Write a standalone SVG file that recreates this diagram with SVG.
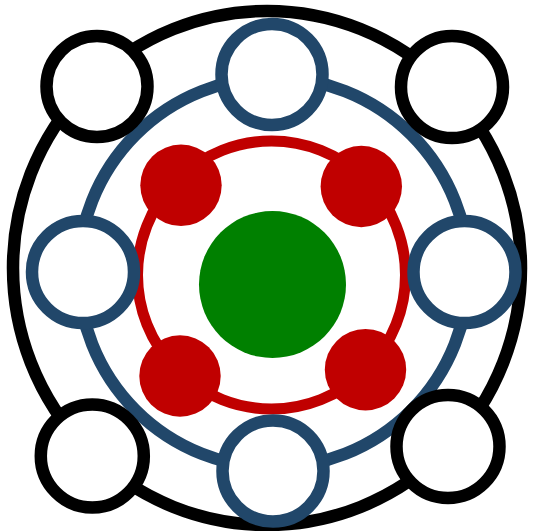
<svg xmlns="http://www.w3.org/2000/svg" width="533" height="531" viewBox="0 0 533 531">
  <style>
    .ring { fill: none; }
    .black { stroke: #000000; stroke-width: 12.5; }
    .blue { stroke: #21476a; stroke-width: 12.5; }
    .red { stroke: #c00000; stroke-width: 11; }
    .node { fill: #ffffff; }
    .redfill { fill: #c00000; }
    .green { fill: #008000; }
  </style>
  <rect x="0" y="0" width="533" height="531" fill="#ffffff"/>
  <g id="connectors">
    <ellipse class="ring black" cx="267" cy="268" rx="254" ry="257"/>
    <circle class="ring blue" cx="273.5" cy="272.5" r="195"/>
    <circle class="ring red" cx="271.5" cy="275" r="134"/>
  </g>
  <g id="center"><circle class="green" cx="272.5" cy="284.5" r="73.5"/></g>
  <g id="red-tl"><circle class="redfill" cx="181" cy="185.3" r="40.7"/></g>
  <g id="red-tr"><circle class="redfill" cx="361.3" cy="186.5" r="40.7"/></g>
  <g id="red-bl"><circle class="redfill" cx="180" cy="376" r="40.7"/></g>
  <g id="red-br"><circle class="redfill" cx="365.5" cy="369.7" r="40.7"/></g>
  <g id="blue-top"><circle class="node blue" cx="272" cy="74.5" r="50.5"/></g>
  <g id="blue-left"><circle class="node blue" cx="83" cy="272" r="51"/></g>
  <g id="blue-right"><circle class="node blue" cx="464.5" cy="272" r="51"/></g>
  <g id="blue-bottom"><circle class="node blue" cx="273" cy="471" r="50.5"/></g>
  <g id="black-tl"><circle class="node black" cx="97" cy="86.5" r="50.5"/></g>
  <g id="black-tr"><circle class="node black" cx="452" cy="87" r="51"/></g>
  <g id="black-bl"><circle class="node black" cx="92.3" cy="456" r="51.5"/></g>
  <g id="black-br"><circle class="node black" cx="448" cy="446.5" r="51.5"/></g>
</svg>
